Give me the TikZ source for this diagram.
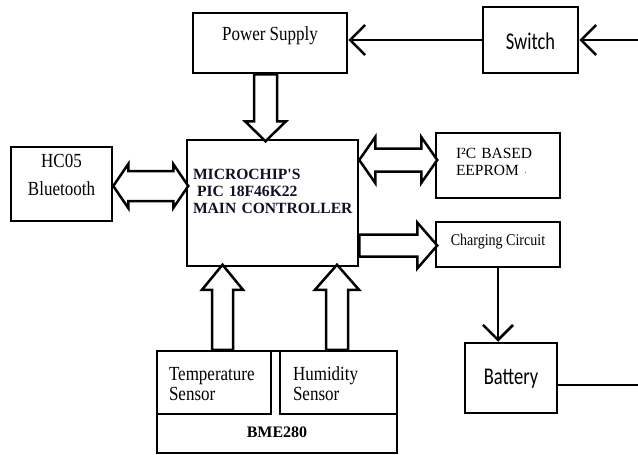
\documentclass[tikz,border=0pt]{standalone}
\usepackage{fontspec}
\setmainfont{Liberation Serif}
\newfontfamily\narrowserif{Liberation Serif}[FakeStretch=0.85]
\newfontfamily\narrowsans{Carlito}[FakeStretch=0.77]
\usetikzlibrary{arrows.meta, calc}
\definecolor{ctrltext}{RGB}{15,15,38}

\begin{document}
\begin{tikzpicture}[x=1pt, y=-1pt,
  blk/.style={draw, line width=2.5pt, inner sep=0pt},
  sig/.style={line width=2.5pt, -{Straight Barb[length=15pt, width=30pt]}},
  fat/.style={draw, line width=2.5pt, fill=white, line join=miter},
  serif/.style={font=\narrowserif\fontsize{20}{20.5}\selectfont},
  sans/.style={font=\narrowsans\fontsize{24}{26}\selectfont}]
\useasboundingbox (0,0) rectangle (638,455);

% blocks
\node (ps) [blk, serif, minimum width=154pt, text height=27pt, text depth=33pt] at (270,43) {Power Supply};
\node (sw) [blk, sans, minimum width=95pt, text height=42pt, text depth=24pt] at (530.5,40) {Switch};
\node (bt) [blk, font=\narrowserif\fontsize{20}{28}\selectfont, align=center, text width=101pt,
  text height=20pt, text depth=54pt] at (61.5,184) {HC05\hspace*{10pt}\\Bluetooth};
\node (mc) [blk, text=ctrltext, font=\bfseries\fontsize{15.6}{17}\selectfont, align=left, inner xsep=6pt, text width=159pt,
  text height=39pt, text depth=87pt] at (272.5,203) {MICROCHIP\textquotesingle S\\\hspace*{4pt}PIC 18F46K22\\\mbox{MAIN CONTROLLER}};
\node (ee) [blk, font=\fontsize{15.5}{17}\selectfont, align=left, inner xsep=20pt, text width=84pt,
  text height=25pt, text depth=40pt] at (498,165.5) {I²C BASED\\EEPROM {\footnotesize ·}};
\node (cc) [blk, font=\narrowserif\fontsize{16.5}{18}\selectfont, minimum width=124pt,
  text height=23pt, text depth=22pt] at (498,244.5) {Charging Circuit};
\node (bat) [blk, sans, minimum width=92pt, text height=41pt, text depth=29pt] at (511,378) {Battery};
\node (bme) [blk, font=\bfseries\fontsize{16}{17}\selectfont, minimum width=240pt,
  text height=86pt, text depth=16pt] at (277,402) {BME280};
\node (temp) [blk, serif, align=left, inner xsep=12pt, text width=90pt,
  text height=29pt, text depth=34pt] at (214,382.5) {Temperature\\Sensor};
\node (hum) [blk, serif, align=left, inner xsep=13pt, text width=91pt,
  text height=29pt, text depth=34pt] at (338.5,382.5) {Humidity\\Sensor};

\coordinate (swin) at (638,40);
\coordinate (batout) at (638,385);

% thin connectors
\draw[sig] (swin) -- (sw.east);
\draw[sig] (sw.west) -- (sw.west -| ps.east);
\draw[sig] (cc.south) -- (cc.south |- bat.north);
\draw[line width=2.5pt] (bat.east |- batout) -- (batout);

% block arrows
\draw[fat] ($(ps.south)+(-16,0)$) -- ++(0,47) -- ++(-9,0) -- ++(20.5,20) -- ++(20.5,-20) -- ++(-9,0) -- ++(0,-47) -- cycle;
\draw[fat] ($(bt.east)+(0,2)$) -- ++(15,-22) -- ++(0,7) -- ++(45,0) -- ++(0,-7) -- ++(15,22)
  -- ++(-15,22) -- ++(0,-7) -- ++(-45,0) -- ++(0,7) -- cycle;
\draw[fat] ($(mc.east |- ee.west)+(0,-5.5)$) -- ++(16,-23) -- ++(0,11.5) -- ++(46,0) -- ++(0,-11.5) -- ++(16,23)
  -- ++(-16,23) -- ++(0,-11.5) -- ++(-46,0) -- ++(0,11.5) -- cycle;
\draw[fat] ($(mc.east |- cc.west)+(0,-10)$) -- ++(58,0) -- ++(0,-12) -- ++(20,23) -- ++(-20,23) -- ++(0,-12) -- ++(-58,0) -- cycle;
\draw[fat] ($(temp.north)+(-2,0)$) -- ++(0,-60) -- ++(-10,0) -- ++(20.5,-25) -- ++(20.5,25) -- ++(-10,0) -- ++(0,60) -- cycle;
\draw[fat] ($(hum.north)+(-12.5,0)$) -- ++(0,-60) -- ++(-11,0) -- ++(22,-25) -- ++(22,25) -- ++(-11,0) -- ++(0,60) -- cycle;
\end{tikzpicture}
\end{document}
